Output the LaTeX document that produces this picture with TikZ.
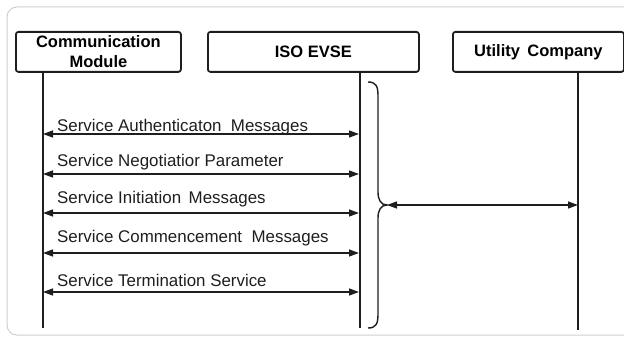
\documentclass[tikz,border=0pt]{standalone}
\usepackage{fontspec}
\setmainfont{Liberation Sans}
\usetikzlibrary{arrows.meta}
\definecolor{ink}{HTML}{1E1E1E}
\definecolor{frame}{HTML}{CFCFCF}
\tikzset{
  actor/.style={draw=ink, line width=1.8pt, rounded corners=2.5pt, minimum height=40pt, inner sep=0pt, font=\fontsize{16.5}{19}\selectfont\bfseries, align=center, anchor=north west},
  life/.style={draw=ink, line width=1.5pt},
  msg/.style={draw=ink, line width=1.3pt, {Triangle[length=10pt,width=7pt]}-{Triangle[length=10pt,width=7pt]}},
  lbl/.style={anchor=base west, inner sep=0pt, font=\fontsize{16.9}{19}\selectfont, text=ink},
}
\begin{document}
\begin{tikzpicture}[x=1pt,y=-1pt]
\useasboundingbox (0,0) rectangle (624,339);
\clip (0,0) rectangle (624,339);
% outer frame
\draw[frame, line width=1pt, rounded corners=10pt] (7,7) rectangle (660,335);
% actors
\node[actor, minimum width=165pt] (cm) at (15,31) {Communication\\[1pt]Module};
\node[actor, minimum width=211pt] (evse) at (207,31) {ISO EVSE};
\node[actor, minimum width=171pt] (uc) at (452,31) {Utility\, Company};
% lifelines
\coordinate (cmb) at (43,328);
\coordinate (evb) at (360,328);
\coordinate (ucb) at (578,330);
\draw[life] (cm.south west -| cmb) -- (cmb);
\draw[life] (evse.south west -| evb) -- (evb);
\draw[life] (uc.south west -| ucb) -- (ucb);
% messages
\foreach \i/\y in {1/134,2/174,3/213,4/253,5/292}{
  \coordinate (l\i) at (43,\y);
  \coordinate (r\i) at (359,\y);
  \draw[msg] (l\i) -- (r\i);
}
\node[lbl] (t1) at (57,132) {Service Authenticaton\ \ Messages};
\node[lbl] (t2) at (57,167) {Service Negotiatior Parameter};
\node[lbl] (t3) at (57,204) {Service Initiation\, Messages};
\node[lbl] (t4) at (57,243) {Service Commencement\ \ Messages};
\node[lbl] (t5) at (57,287) {Service Termination Service};
% brace
\coordinate (tip) at (387,205);
\draw[draw=ink, line width=1.4pt] (368,82) .. controls (376,82) and (378,86) .. (378,96) -- (378,192) .. controls (378,200) and (381,205) .. (tip) .. controls (381,205) and (378,210) .. (378,218) -- (378,314) .. controls (378,324) and (376,328) .. (368,328);
\coordinate (ucm) at (578,205);
\draw[msg] (tip) -- (ucm);
\end{tikzpicture}
\end{document}
